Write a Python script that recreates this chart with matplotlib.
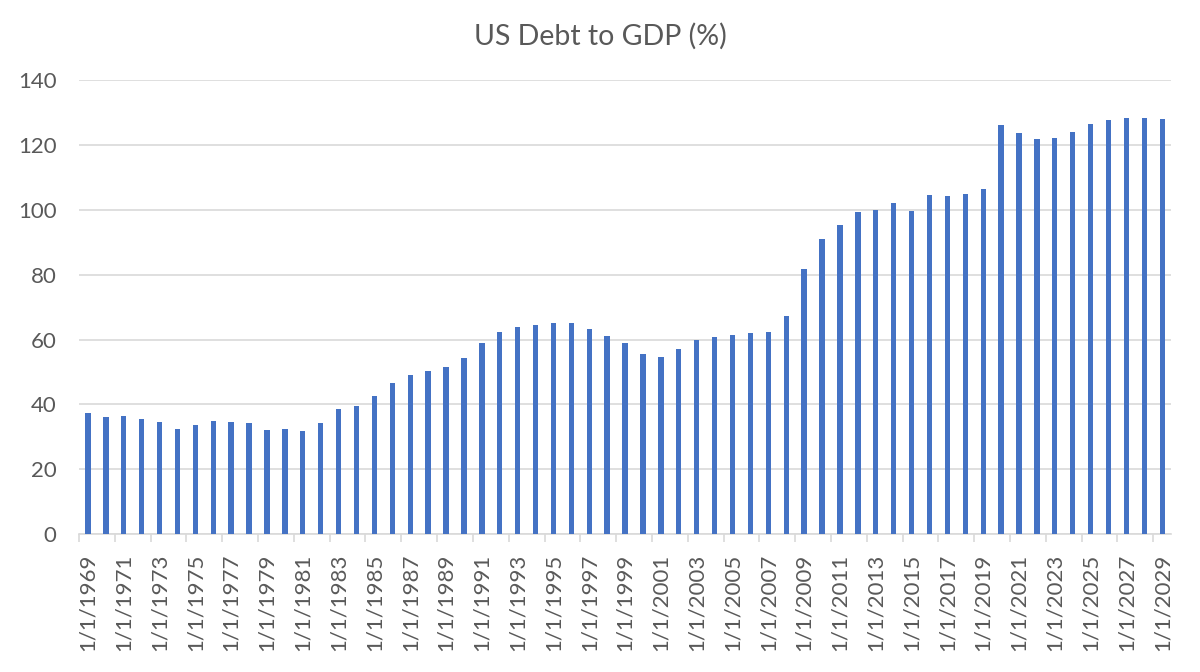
import numpy as np
import matplotlib
matplotlib.use("Agg")
import matplotlib.pyplot as plt

plt.rcParams['font.family'] = ['Lato', 'DejaVu Sans']

years = list(range(1969, 2030))
debt_to_gdp = [
    37.2, 36.2, 36.4, 35.6, 34.4, 32.4, 33.5, 35.0, 34.7, 34.1,
    32.1, 32.4, 31.7, 34.1, 38.7, 39.4, 42.5, 46.6, 49.1, 50.4,
    51.4, 54.2, 59.0, 62.2, 64.0, 64.5, 65.0, 65.0, 63.3, 61.1,
    59.0, 55.5, 54.7, 57.0, 59.8, 60.9, 61.5, 62.0, 62.4, 67.3,
    81.9, 90.9, 95.4, 99.4, 100.1, 102.0, 99.7, 104.7, 104.2, 105.0,
    106.4, 126.2, 123.8, 121.8, 122.3, 124.2, 126.4, 127.7, 128.3, 128.3,
    128.0,
]
labels = ["1/1/%d" % y for y in years]

text_color = "#595959"
grid_color = "#D9D9D9"

fig = plt.figure(figsize=(12, 6.72), dpi=100)
ax = fig.add_axes([0.0658, 0.2054, 0.9102, 0.6751])

x = np.arange(len(years))
ax.bar(x, debt_to_gdp, width=0.3, color="#4472C4", zorder=3)

ax.set_xlim(-0.5, len(years) - 0.5)
ax.set_ylim(0, 140)
ax.set_yticks(np.arange(0, 141, 20))
ax.yaxis.grid(True, color=grid_color, linewidth=1.2, zorder=0)

ax.set_xticks(x[::2])
ax.set_xticklabels(labels[::2], rotation=90, fontsize=16, color=text_color)
ax.set_xticks(np.arange(-0.5, len(years), 2), minor=True)
ax.tick_params(axis="x", which="major", length=0, pad=14)
ax.tick_params(axis="x", which="minor", length=6, color=grid_color, width=1.2)
ax.tick_params(axis="y", length=0, labelsize=16, labelcolor=text_color, pad=16)

for side in ["top", "right", "left"]:
    ax.spines[side].set_visible(False)
ax.spines["bottom"].set_color(grid_color)
ax.spines["bottom"].set_linewidth(1.2)

fig.text(0.5, 0.946, "US Debt to GDP (%)", ha="center", va="center",
         fontsize=20.5, color=text_color)

fig.savefig("out.png", dpi=100)
